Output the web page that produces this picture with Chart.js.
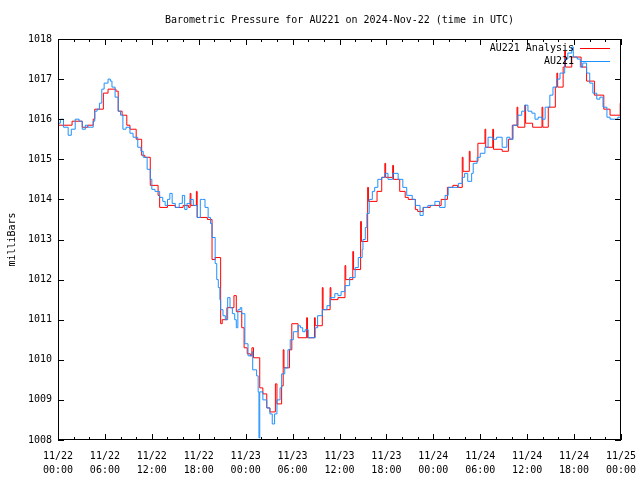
<!DOCTYPE html>
<html>
<head>
<meta charset="utf-8">
<script src="https://cdn.jsdelivr.net/npm/chart.js@4.4.1/dist/chart.umd.min.js"></script>
<style>
  body { margin: 0; background: #fff; }
</style>
</head>
<body>
<canvas id="myChart" width="640" height="480"></canvas>
<script>
// hours since 2024-11-22 00:00 UTC
const blueHours = [0.0, 0.3, 0.7, 1.3, 1.7, 2.2, 2.7, 3.1, 3.5, 3.8, 4.2, 4.5, 4.7, 5.0, 5.3, 5.6, 5.9, 6.4, 6.7, 6.9,
    7.3, 7.7, 8.0, 8.3, 8.7, 9.2, 9.6, 10.2, 10.6, 10.9, 11.4, 11.8, 12.0, 12.4, 13.0, 13.4, 13.7, 14.0, 14.3, 14.6,
    15.0, 15.5, 15.9, 16.2, 16.5, 16.9, 17.3, 17.8, 18.2, 18.5, 18.8, 19.2, 19.5, 19.7, 20.1, 20.3, 20.5, 20.7, 20.8, 21.1,
    21.4, 21.7, 22.0, 22.3, 22.6, 22.8, 23.0, 23.3, 23.5, 23.9, 24.3, 24.8, 24.9, 25.4, 25.6, 25.7, 25.8, 26.1, 26.2, 26.7,
    27.1, 27.4, 27.7, 28.0, 28.4, 28.6, 29.0, 29.4, 29.7, 30.1, 30.7, 31.0, 31.3, 31.6, 32.0, 32.5, 32.9, 33.2, 33.8, 34.4,
    34.8, 35.4, 35.8, 36.2, 36.7, 37.3, 38.0, 38.4, 38.9, 39.0, 39.3, 39.5, 39.8, 40.2, 40.5, 40.9, 41.4, 41.8, 42.2, 42.8,
    43.5, 44.1, 44.6, 45.3, 45.7, 46.3, 46.7, 47.3, 48.2, 48.8, 49.5, 49.9, 50.5, 51.2, 51.7, 52.0, 52.4, 52.9, 53.1, 53.6,
    54.0, 54.6, 55.0, 55.6, 56.1, 56.8, 57.4, 57.8, 58.2, 58.8, 59.3, 59.7, 60.1, 60.6, 61.0, 61.4, 61.9, 62.3, 62.7, 62.9,
    63.3, 63.8, 64.2, 64.8, 65.2, 65.7, 65.9, 66.4, 66.8, 67.1, 67.6, 68.0, 68.4, 68.9, 69.3, 69.7, 70.2, 70.6, 71.2, 71.6,
    72.0];
const blueValues = [1015.9, 1016.0, 1015.8, 1015.6, 1015.75, 1016.0, 1015.95, 1015.75, 1015.85, 1015.8, 1015.8, 1015.95, 1016.2, 1016.25, 1016.4, 1016.75, 1016.9, 1017.0, 1016.95, 1016.8,
    1016.55, 1016.2, 1016.1, 1015.75, 1015.8, 1015.65, 1015.55, 1015.3, 1015.2, 1015.05, 1014.75, 1014.5, 1014.25, 1014.2, 1014.05, 1013.95, 1013.85, 1014.0, 1014.15, 1013.9,
    1013.8, 1013.9, 1014.1, 1013.75, 1013.9, 1014.0, 1013.85, 1013.55, 1014.0, 1014.0, 1013.8, 1013.55, 1013.4, 1013.05, 1012.4, 1012.0, 1011.8, 1011.5, 1011.25, 1011.1,
    1011.0, 1011.55, 1011.3, 1011.15, 1011.0, 1010.8, 1011.25, 1011.3, 1011.15, 1010.4, 1010.1, 1010.2, 1009.75, 1009.6, 1009.2, 1008.05, 1009.2, 1009.2, 1009.0, 1008.8,
    1008.65, 1008.4, 1008.65, 1009.0, 1009.3, 1009.65, 1009.8, 1010.25, 1010.5, 1010.7, 1010.85, 1010.8, 1010.7, 1010.75, 1010.55, 1010.55, 1010.8, 1011.1, 1011.25, 1011.35,
    1011.55, 1011.65, 1011.6, 1011.7, 1011.85, 1012.05, 1012.3, 1012.55, 1012.75, 1013.0, 1013.3, 1013.65, 1014.0, 1014.2, 1014.3, 1014.5, 1014.55, 1014.65, 1014.5, 1014.65,
    1014.5, 1014.3, 1014.1, 1014.0, 1013.85, 1013.6, 1013.8, 1013.85, 1013.95, 1013.8, 1014.1, 1014.3, 1014.3, 1014.4, 1014.55, 1014.65, 1014.45, 1014.65, 1014.9, 1015.05,
    1015.15, 1015.3, 1015.55, 1015.5, 1015.55, 1015.3, 1015.55, 1015.5, 1015.85, 1016.1, 1016.2, 1016.35, 1016.2, 1016.15, 1016.0, 1016.05, 1016.0, 1016.3, 1016.3, 1016.6,
    1016.8, 1017.0, 1017.15, 1017.5, 1017.65, 1017.8, 1017.55, 1017.5, 1017.3, 1017.4, 1017.15, 1016.9, 1016.65, 1016.5, 1016.55, 1016.3, 1016.05, 1016.0, 1016.0, 1016.05,
    1016.2];

const redHours = [0.0, 1.8, 3.1, 3.8, 4.5, 4.7, 5.8, 6.4, 7.4, 7.7, 8.2, 8.8, 9.2, 10.0, 10.7, 11.1, 11.8, 12.8, 13.0, 14.0,
    15.0, 16.0, 16.7, 16.9, 17.0, 17.7, 17.8, 19.1, 19.7, 20.1, 20.8, 21.0, 21.6, 22.5, 22.8, 23.5, 23.8, 24.2, 24.6, 24.8,
    25.0, 25.8, 26.2, 26.7, 27.1, 27.8, 28.0, 28.6, 28.8, 28.9, 29.6, 29.9, 30.7, 31.8, 31.9, 32.8, 32.9, 33.8, 33.9, 34.8,
    34.9, 35.8, 36.7, 36.8, 37.7, 37.8, 38.7, 38.8, 39.6, 39.7, 40.8, 41.4, 41.8, 41.9, 42.8, 42.9, 43.7, 44.4, 44.8, 45.7,
    46.0, 46.7, 47.6, 49.0, 49.8, 50.5, 51.1, 51.7, 51.8, 52.6, 52.7, 53.7, 54.6, 54.7, 55.6, 55.7, 56.8, 57.6, 58.1, 58.7,
    58.8, 59.7, 59.8, 60.7, 61.9, 62.0, 62.7, 63.6, 63.8, 63.9, 64.6, 64.8, 64.9, 65.7, 66.9, 67.6, 68.6, 69.8, 70.6, 71.9,
    72.0];
const redValues = [1015.85, 1015.95, 1015.8, 1015.85, 1016.0, 1016.25, 1016.65, 1016.75, 1016.7, 1016.2, 1016.1, 1015.85, 1015.75, 1015.5, 1015.1, 1015.05, 1014.35, 1014.1, 1013.8, 1013.85,
    1013.8, 1013.85, 1013.8, 1014.15, 1013.85, 1014.2, 1013.55, 1013.5, 1012.5, 1012.55, 1010.9, 1011.0, 1011.3, 1011.6, 1011.2, 1010.8, 1010.3, 1010.15, 1010.1, 1010.3,
    1010.05, 1009.3, 1009.15, 1008.8, 1008.7, 1009.4, 1008.9, 1009.35, 1010.25, 1009.8, 1010.25, 1010.9, 1010.55, 1011.05, 1010.55, 1011.05, 1010.85, 1011.8, 1011.25, 1011.8,
    1011.5, 1011.55, 1012.35, 1012.0, 1012.7, 1012.25, 1013.45, 1012.95, 1014.3, 1013.95, 1014.2, 1014.55, 1014.9, 1014.55, 1014.85, 1014.5, 1014.2, 1014.05, 1014.0, 1013.75,
    1013.7, 1013.8, 1013.85, 1014.0, 1014.3, 1014.35, 1014.3, 1015.05, 1014.7, 1015.2, 1014.95, 1015.4, 1015.75, 1015.3, 1015.75, 1015.25, 1015.2, 1015.5, 1015.85, 1016.3,
    1015.8, 1016.35, 1015.9, 1015.8, 1016.3, 1015.8, 1016.3, 1016.8, 1017.15, 1016.8, 1017.3, 1017.7, 1017.3, 1017.55, 1017.3, 1016.95, 1016.6, 1016.25, 1016.1, 1016.4,
    1016.4];

const xTickDates = ['11/22', '11/22', '11/22', '11/22', '11/23', '11/23', '11/23', '11/23', '11/24', '11/24', '11/24', '11/24', '11/25'];
const xTickTimes = ['00:00', '06:00', '12:00', '18:00', '00:00', '06:00', '12:00', '18:00', '00:00', '06:00', '12:00', '18:00', '00:00'];

const chartTitle = 'Barometric Pressure for AU221 on 2024-Nov-22 (time in UTC)';
const FONT = 'DejaVu Sans Mono';

function toPoints(xs, ys) {
    return xs.map((h, i) => ({ x: h, y: ys[i] }));
}

// gnuplot look: title over the plot, box, inward ticks, key in the top right
const frameAndLegend = {
    id: 'frameAndLegend',
    afterDraw(chart) {
        const { ctx, chartArea: a, scales: { x, y } } = chart;
        ctx.save();
        ctx.font = '10px ' + FONT;
        ctx.fillStyle = '#000';
        ctx.textAlign = 'center';
        ctx.textBaseline = 'middle';
        ctx.fillText(chartTitle, (a.left + a.right) / 2, 20);

        ctx.strokeStyle = '#000';
        ctx.lineWidth = 1;
        ctx.beginPath();
        for (let h = 0; h <= 72; h += 2) {
            const px = Math.round(x.getPixelForValue(h)) + 0.5;
            const len = h % 6 === 0 ? 6 : 3;
            ctx.moveTo(px, a.bottom); ctx.lineTo(px, a.bottom - len);
            ctx.moveTo(px, a.top); ctx.lineTo(px, a.top + len);
        }
        for (let v = 1008; v <= 1018; v++) {
            const py = Math.round(y.getPixelForValue(v)) + 0.5;
            ctx.moveTo(a.left, py); ctx.lineTo(a.left + 6, py);
            ctx.moveTo(a.right, py); ctx.lineTo(a.right - 6, py);
        }
        ctx.stroke();
        ctx.strokeRect(Math.round(a.left) + 0.5, Math.round(a.top) + 0.5,
            Math.round(a.right - a.left) - 1, Math.round(a.bottom - a.top) - 1);

        ctx.textAlign = 'right';
        const keys = [['AU221 Analysis', '#ff0000'], ['AU221', '#1e90ff']];
        keys.forEach((k, i) => {
            const ky = a.top + 9.5 + i * 13;
            ctx.fillText(k[0], a.right - 47, ky);
            ctx.strokeStyle = k[1];
            ctx.beginPath();
            ctx.moveTo(a.right - 41, ky);
            ctx.lineTo(a.right - 11, ky);
            ctx.stroke();
        });
        ctx.restore();
    }
};

new Chart(document.getElementById('myChart'), {
    type: 'line',
    data: {
        datasets: [{
            label: 'AU221 Analysis',
            data: toPoints(redHours, redValues),
            borderColor: '#ff0000',
            borderWidth: 1,
            stepped: true,
            pointRadius: 0,
            order: 1
        }, {
            label: 'AU221',
            data: toPoints(blueHours, blueValues),
            borderColor: '#1e90ff',
            borderWidth: 1,
            stepped: true,
            pointRadius: 0,
            order: 0
        }]
    },
    options: {
        responsive: false,
        animation: false,
        layout: { padding: { left: 0, right: 19, top: 39, bottom: 0 } },
        scales: {
            x: {
                type: 'linear',
                min: 0,
                max: 72,
                grid: { display: false, drawTicks: false },
                border: { display: false },
                ticks: {
                    stepSize: 6,
                    autoSkip: false,
                    maxRotation: 0,
                    padding: 9,
                    color: '#000',
                    font: { family: FONT, size: 10, lineHeight: 1.45 },
                    callback: (value) => {
                        const i = Math.round(value / 6);
                        return [xTickDates[i], xTickTimes[i]];
                    }
                },
                afterFit: (scale) => {
                    scale.height = 40;
                    scale.paddingLeft = 0;
                    scale.paddingRight = 0;
                }
            },
            y: {
                min: 1008,
                max: 1018,
                grid: { display: false, drawTicks: false },
                border: { display: false },
                ticks: {
                    stepSize: 1,
                    padding: 6,
                    color: '#000',
                    font: { family: FONT, size: 10 },
                    callback: (value) => String(value)
                },
                title: {
                    display: true,
                    text: 'milliBars',
                    color: '#000',
                    padding: { top: 6, bottom: 0 },
                    font: { family: FONT, size: 10 }
                },
                afterFit: (scale) => { scale.width = 58; }
            }
        },
        plugins: {
            legend: { display: false },
            tooltip: { enabled: false },
            title: { display: false }
        }
    },
    plugins: [frameAndLegend]
});
</script>
</body>
</html>
